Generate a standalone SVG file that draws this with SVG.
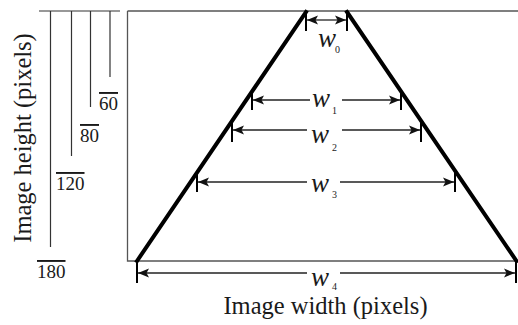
<svg xmlns="http://www.w3.org/2000/svg" width="518" height="325" viewBox="0 0 518 325">
<style>
.frame{fill:none;stroke:#555;stroke-width:1.3}
.axis{fill:none;stroke:#333;stroke-width:1.2}
.trap{fill:none;stroke:#000;stroke-width:4;stroke-linecap:square}
.dim{fill:none;stroke:#222;stroke-width:1.3}
.tick{fill:none;stroke:#000;stroke-width:2}
.lbl{font-family:"Liberation Serif","Times New Roman",serif;fill:#1a1a1a}
.w{font-family:"Liberation Serif","Times New Roman",serif;font-style:italic;font-size:27px;fill:#1a1a1a}
.sub{font-family:"Liberation Serif","Times New Roman",serif;font-size:10px;fill:#1a1a1a}
.num{font-family:"Liberation Serif","Times New Roman",serif;font-size:19px;fill:#1a1a1a;text-decoration:overline}
</style>
<defs>
<marker id="ah" markerUnits="userSpaceOnUse" markerWidth="12" markerHeight="10" refX="11" refY="5" orient="auto">
<path d="M0,0.5 L11,5 L0,9.5 L2.5,5 Z" fill="#111"/>
</marker>
</defs>
<g id="frame">
<path class="frame" d="M127.5,11 H518 M127.5,11 V261 H518"/>
</g>
<g id="height-scale">
<path class="axis" d="M39,11 H120 M50.5,11 V247 M71.5,11 V156 M90.5,11 V107 M110,11 V77"/>
<text class="num" x="99" y="110">60</text>
<text class="num" x="80" y="142">80</text>
<text class="num" x="56" y="190">120</text>
<text class="num" x="37" y="278">180</text>
</g>
<g id="trapezoid">
<line class="trap" x1="137" y1="261" x2="306" y2="12"/>
<line class="trap" x1="347" y1="12" x2="516.5" y2="261"/>
</g>
<g id="connectors">
<path class="tick" d="M306,11 V31 M347,11 V31"/>
<line class="dim" x1="326" y1="20" x2="307" y2="20" marker-end="url(#ah)"/>
<line class="dim" x1="326" y1="20" x2="346" y2="20" marker-end="url(#ah)"/>
<path class="tick" d="M252,92 V110 M401,92 V110"/>
<line class="dim" x1="310" y1="100" x2="253" y2="100" marker-end="url(#ah)"/>
<line class="dim" x1="342" y1="100" x2="400" y2="100" marker-end="url(#ah)"/>
<path class="tick" d="M232,122 V142 M421,122 V142"/>
<line class="dim" x1="307" y1="130" x2="233" y2="130" marker-end="url(#ah)"/>
<line class="dim" x1="342" y1="130" x2="420" y2="130" marker-end="url(#ah)"/>
<path class="tick" d="M197,172 V192 M455,172 V192"/>
<line class="dim" x1="307" y1="182" x2="198" y2="182" marker-end="url(#ah)"/>
<line class="dim" x1="340" y1="182" x2="454" y2="182" marker-end="url(#ah)"/>
<path class="tick" d="M137,261 V283 M516,261 V283"/>
<line class="dim" x1="307" y1="273" x2="138" y2="273" marker-end="url(#ah)"/>
<line class="dim" x1="340" y1="273" x2="515" y2="273" marker-end="url(#ah)"/>
</g>
<g id="labels">
<text class="w" x="318" y="47">w</text><text class="sub" x="335" y="53">0</text>
<text class="w" x="312" y="107">w</text><text class="sub" x="332" y="114">1</text>
<text class="w" x="311" y="143">w</text><text class="sub" x="332" y="151">2</text>
<text class="w" x="311" y="286">w</text><text class="sub" x="332" y="290">4</text>
<text class="w" x="311" y="192">w</text><text class="sub" x="332" y="198">3</text>
<text class="lbl" x="325.5" y="314" font-size="24.5" text-anchor="middle">Image width (pixels)</text>
<text class="lbl" font-size="24.5" text-anchor="middle" transform="translate(31,138) rotate(-90)">Image height (pixels)</text>
</g>
</svg>
